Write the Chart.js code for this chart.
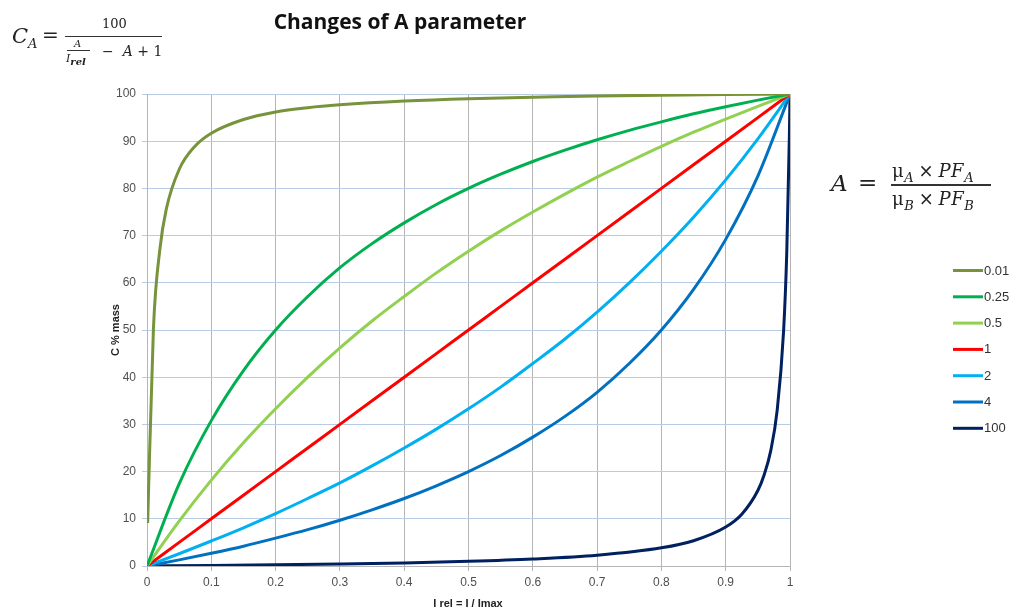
<!DOCTYPE html>
<html>
<head>
<meta charset="utf-8">
<script src="https://cdn.jsdelivr.net/npm/chart.js@4.4.1/dist/chart.umd.min.js"></script>
<style>
  html, body { margin: 0; padding: 0; background: #fff; }
  #wrap { position: relative; width: 1020px; height: 612px; overflow: hidden; }
  #chart { position: absolute; left: 0; top: 0; }
  .m { position: absolute; font-family: "DejaVu Serif", "Liberation Serif", serif; color: #222; white-space: nowrap; line-height: 1; }
  .i { font-style: italic; }
  .bar { position: absolute; height: 1.3px; background: #333; }
  #title { position: absolute; left: 0; width: 800px; top: 7px; text-align: center; font-family: "Open Sans", "Liberation Sans", sans-serif; font-weight: bold; font-size: 21px; color: #111; }
</style>
</head>
<body>
<div id="wrap">
  <canvas id="chart" width="1020" height="612"></canvas>
  <div id="title">Changes of A parameter</div>

  <!-- C_A = 100 / (A / I_rel - A + 1) -->
  <div class="m i" style="left:12px;top:26px;font-size:21px;">C<sub style="font-size:13px;">A</sub></div>
  <div class="m" style="left:42px;top:25px;font-size:20px;">=</div>
  <div class="m" style="left:102px;top:17px;font-size:13px;">100</div>
  <div class="bar" style="left:65px;top:36px;width:97px;"></div>
  <div class="m i" style="left:74px;top:39px;font-size:10px;">A</div>
  <div class="bar" style="left:67px;top:50px;width:23px;height:1px;"></div>
  <div class="m i" style="left:66px;top:53px;font-size:11px;">I<sub style="font-size:10px;font-weight:bold;">rel</sub></div>
  <div class="m" style="left:102px;top:44px;font-size:14px;">−&nbsp; <span class="i">A</span> + 1</div>

  <!-- A = (mu_A x PF_A) / (mu_B x PF_B) -->
  <div class="m i" style="left:831px;top:172px;font-size:23px;">A</div>
  <div class="m" style="left:858px;top:171px;font-size:23px;">=</div>
  <div class="m" style="left:892px;top:162px;font-size:18px;letter-spacing:0.6px;">μ<sub class="i" style="font-size:13px;">A</sub>&thinsp;×&thinsp;<span class="i">PF</span><sub class="i" style="font-size:13px;">A</sub></div>
  <div class="bar" style="left:891px;top:184px;width:100px;height:1.5px;"></div>
  <div class="m" style="left:892px;top:190px;font-size:18px;letter-spacing:0.6px;">μ<sub class="i" style="font-size:13px;">B</sub>&thinsp;×&thinsp;<span class="i">PF</span><sub class="i" style="font-size:13px;">B</sub></div>
</div>
<script>
// Relative intensity sample points
const iRel = [0, 0.05, 0.1, 0.15, 0.2, 0.25, 0.3, 0.35, 0.4, 0.45, 0.5,
              0.55, 0.6, 0.65, 0.7, 0.75, 0.8, 0.85, 0.9, 0.95, 1];
const iRelLow = [0.001, 0.01, 0.02, 0.03, 0.05, 0.075, 0.1, 0.15, 0.2, 0.25, 0.3,
                 0.4, 0.5, 0.6, 0.7, 0.8, 0.9, 1];
const iRelHigh = [0, 0.1, 0.2, 0.3, 0.4, 0.5, 0.6, 0.7, 0.8, 0.85, 0.9, 0.925,
                  0.95, 0.96, 0.97, 0.98, 0.99, 0.995, 0.999, 1];

// Concentration (C % mass) for each value of A
const cA001 = [9.1, 50.3, 67.1, 75.6, 84.0, 89.0, 91.7, 94.6, 96.2, 97.1, 97.7,
               98.5, 99.0, 99.3, 99.6, 99.75, 99.9, 100];
const cA025 = [0, 17.4, 30.8, 41.4, 50, 57.1, 63.2, 68.3, 72.7, 76.6, 80,
               83.0, 85.7, 88.1, 90.3, 92.3, 94.1, 95.8, 97.3, 98.7, 100];
const cA05 = [0, 9.5, 18.2, 26.1, 33.3, 40, 46.2, 51.9, 57.1, 62.1, 66.7,
              71.0, 75, 78.8, 82.4, 85.7, 88.9, 91.9, 94.7, 97.4, 100];
const cA1 = [0, 5, 10, 15, 20, 25, 30, 35, 40, 45, 50,
             55, 60, 65, 70, 75, 80, 85, 90, 95, 100];
const cA2 = [0, 2.6, 5.3, 8.1, 11.1, 14.3, 17.6, 21.2, 25, 29.0, 33.3,
             37.9, 42.9, 48.1, 53.8, 60, 66.7, 73.9, 81.8, 90.5, 100];
const cA4 = [0, 1.3, 2.7, 4.2, 5.9, 7.7, 9.7, 11.9, 14.3, 17.0, 20,
             23.4, 27.3, 31.7, 36.8, 42.9, 50, 58.6, 69.2, 82.6, 100];
const cA100 = [0, 0.11, 0.25, 0.43, 0.66, 0.99, 1.48, 2.28, 3.85, 5.36, 8.26, 10.98,
               16.0, 19.4, 24.4, 32.9, 49.7, 66.6, 90.9, 100];

const seriesLabels = ['0.01', '0.25', '0.5', '1', '2', '4', '100'];
const seriesColors = ['#77933c', '#00b050', '#92d050', '#ff0000', '#00b0f0', '#0070c0', '#002060'];
const xTickLabels = ['0', '0.1', '0.2', '0.3', '0.4', '0.5', '0.6', '0.7', '0.8', '0.9', '1'];

const pairs = (xs, ys) => xs.map((x, k) => ({ x: x, y: ys[k] }));
const seriesData = [
  pairs(iRelLow, cA001), pairs(iRel, cA025), pairs(iRel, cA05), pairs(iRel, cA1),
  pairs(iRel, cA2), pairs(iRel, cA4), pairs(iRelHigh, cA100)
];

const datasets = seriesData.map((d, k) => ({
  label: seriesLabels[k],
  data: d,
  borderColor: seriesColors[k],
  backgroundColor: seriesColors[k],
  borderWidth: 3,
  pointRadius: 0,
  cubicInterpolationMode: 'monotone',
  fill: false
}));

// Legend and axis titles drawn directly on the canvas
const extras = {
  id: 'extras',
  afterDraw(chart) {
    const ctx = chart.ctx;
    ctx.save();
    chart.data.datasets.forEach((ds, k) => {
      const y = 270.5 + k * 26.3;
      ctx.strokeStyle = ds.borderColor;
      ctx.lineWidth = 3;
      ctx.beginPath();
      ctx.moveTo(953, y);
      ctx.lineTo(983, y);
      ctx.stroke();
      ctx.fillStyle = '#333';
      ctx.font = '13px "Liberation Sans", sans-serif';
      ctx.textBaseline = 'middle';
      ctx.textAlign = 'left';
      ctx.fillText(ds.label, 984, y + 0.5);
    });
    ctx.fillStyle = '#222';
    ctx.font = 'bold 11px "Liberation Sans", sans-serif';
    ctx.textAlign = 'center';
    ctx.textBaseline = 'middle';
    ctx.fillText('I rel = I / Imax', 468, 604);
    ctx.translate(116, 330);
    ctx.rotate(-Math.PI / 2);
    ctx.fillText('C % mass', 0, 0);
    ctx.restore();
  }
};

new Chart(document.getElementById('chart'), {
  type: 'line',
  data: { datasets: datasets },
  options: {
    responsive: false,
    animation: false,
    layout: { padding: { top: 94, right: 230, left: 0, bottom: 0 } },
    plugins: { legend: { display: false }, tooltip: { enabled: false } },
    scales: {
      x: {
        type: 'linear',
        min: 0, max: 1,
        afterFit(s) { s.height = 46; },
        ticks: {
          stepSize: 0.1,
          color: '#505050',
          font: { size: 12, family: '"Liberation Sans", sans-serif' },
          padding: 4,
          maxRotation: 0,
          callback: (v) => xTickLabels[Math.round(v * 10)]
        },
        grid: { color: '#b5b5b5', lineWidth: 1, tickLength: 5, drawTicks: true },
        border: { color: '#b5b5b5' }
      },
      y: {
        min: 0, max: 100,
        afterFit(s) { s.width = 147; },
        ticks: {
          stepSize: 10,
          color: '#505050',
          font: { size: 12, family: '"Liberation Sans", sans-serif' },
          padding: 6
        },
        grid: { color: '#b8cce4', lineWidth: 1, tickLength: 5 },
        border: { color: '#b5b5b5' }
      }
    }
  },
  plugins: [extras]
});
</script>
</body>
</html>
